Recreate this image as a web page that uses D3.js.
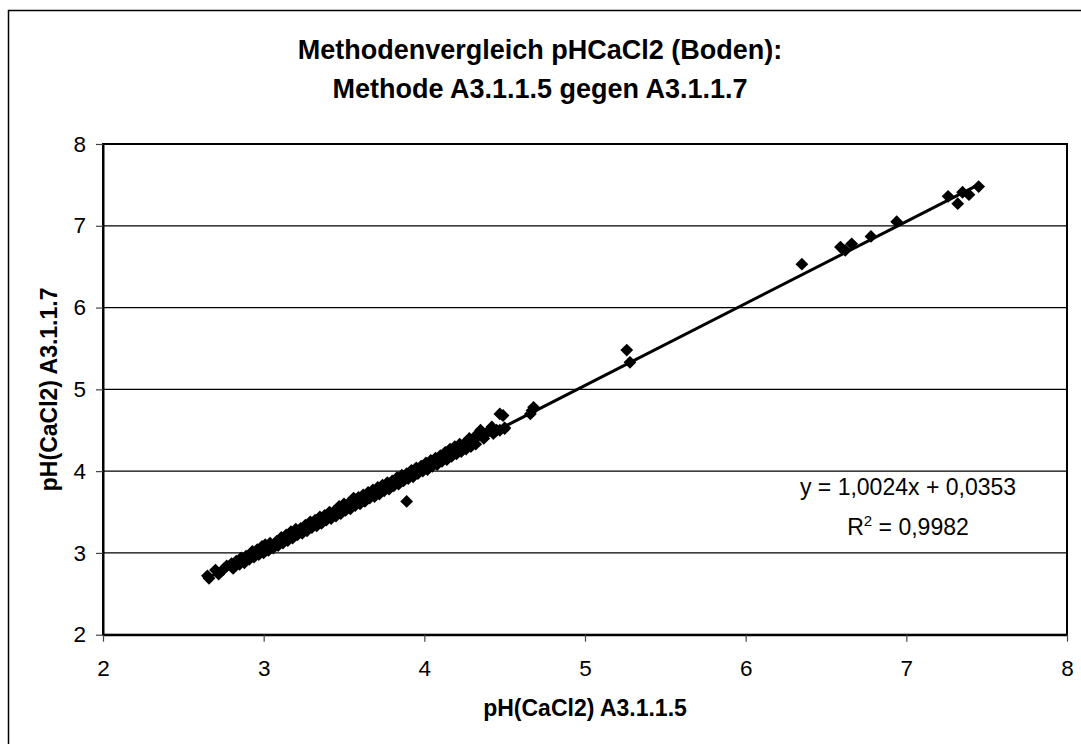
<!DOCTYPE html>
<html>
<head>
<meta charset="utf-8">
<script src="https://cdn.jsdelivr.net/npm/d3@7"></script>
<style>
  html, body { margin: 0; padding: 0; background: #fff; }
  svg { display: block; }
  text { font-family: "Liberation Sans", Arial, sans-serif; fill: #000; }
</style>
</head>
<body>
<svg id="chart" width="1081" height="744"></svg>
<script>
// pH(CaCl2) measured with method A3.1.1.5 (x) and A3.1.1.7 (y)
const phA3115 = [
  2.65, 2.66, 2.70, 2.72, 2.75, 2.77, 2.80, 2.81, 2.83, 2.85, 2.86, 2.88, 2.89, 2.91, 2.93, 2.94,
  2.96, 2.97, 2.99, 3.00, 3.01, 3.03, 3.04, 3.06, 3.08, 3.09, 3.11, 3.12, 3.14, 3.15, 3.17, 3.18,
  3.20, 3.21, 3.23, 3.24, 3.26, 3.27, 3.29, 3.30, 3.32, 3.33, 3.35, 3.36, 3.38, 3.39, 3.41, 3.42,
  3.44, 3.45, 3.47, 3.48, 3.50, 3.51, 3.53, 3.54, 3.56, 3.57, 3.59, 3.60, 3.62, 3.63, 3.65, 3.66,
  3.68, 3.69, 3.71, 3.72, 3.74, 3.75, 3.77, 3.78, 3.80, 3.81, 3.83, 3.84, 3.86, 3.87, 3.89, 3.90,
  3.92, 3.93, 3.95, 3.96, 3.98, 3.99, 4.01, 4.02, 4.04, 4.05, 4.07, 4.08, 4.10, 4.11, 4.13, 4.14,
  4.16, 4.17, 4.19, 4.20, 4.22, 4.23, 4.25, 4.26, 4.28, 4.29, 4.31, 4.32, 4.34, 4.35, 4.37, 4.38,
  4.40, 4.42, 4.43, 4.45, 4.47, 4.50, 3.89,
  4.47, 4.49, 4.50, 4.66, 4.68, 4.67, 5.26, 5.28, 6.35, 6.59, 6.62, 6.66, 6.78, 6.94,
  7.26, 7.32, 7.35, 7.39, 7.45
];
const phA3117 = [
  2.72, 2.69, 2.79, 2.74, 2.80, 2.84, 2.87, 2.81, 2.90, 2.86, 2.94, 2.88, 2.96, 2.92, 3.02, 2.95,
  3.04, 2.98, 3.08, 3.00, 3.10, 3.03, 3.12, 3.06, 3.14, 3.09, 3.19, 3.12, 3.22, 3.15, 3.26, 3.18,
  3.29, 3.22, 3.30, 3.24, 3.34, 3.27, 3.38, 3.31, 3.40, 3.33, 3.44, 3.36, 3.46, 3.40, 3.50, 3.42,
  3.51, 3.45, 3.57, 3.48, 3.60, 3.52, 3.61, 3.54, 3.67, 3.58, 3.68, 3.60, 3.71, 3.63, 3.74, 3.67,
  3.77, 3.69, 3.80, 3.72, 3.83, 3.76, 3.86, 3.78, 3.88, 3.82, 3.92, 3.84, 3.95, 3.88, 3.97, 3.91,
  4.01, 3.93, 4.04, 3.97, 4.06, 4.00, 4.10, 4.02, 4.13, 4.06, 4.16, 4.08, 4.19, 4.12, 4.23, 4.14,
  4.27, 4.18, 4.30, 4.21, 4.33, 4.24, 4.34, 4.27, 4.40, 4.30, 4.41, 4.33, 4.47, 4.50, 4.40, 4.45,
  4.49, 4.54, 4.46, 4.50, 4.50, 4.53, 3.63,
  4.70, 4.68, 4.52, 4.70, 4.78, 4.74, 5.48, 5.33, 6.53, 6.74, 6.70, 6.78, 6.87, 7.05,
  7.36, 7.27, 7.41, 7.38, 7.48
];

// Linear trend line reported in the chart
const trendSlope = 1.0024;
const trendIntercept = 0.0353;
const trendLabel = "y = 1,0024x + 0,0353";
const rSquaredLabel = "0,9982";

const xTicks = [2, 3, 4, 5, 6, 7, 8];
const yTicks = [2, 3, 4, 5, 6, 7, 8];

const titleLines = ["Methodenvergleich pHCaCl2 (Boden):", "Methode A3.1.1.5 gegen A3.1.1.7"];
const xTitle = "pH(CaCl2) A3.1.1.5";
const yTitle = "pH(CaCl2) A3.1.1.7";

const svg = d3.select("#chart");

const plot = { left: 103, right: 1067, top: 144, bottom: 634.7 };
const x = d3.scaleLinear().domain([2, 8]).range([plot.left, plot.right]);
const y = d3.scaleLinear().domain([2, 8]).range([plot.bottom, plot.top]);

// chart frame (runs past the right and bottom edges)
svg.append("rect")
  .attr("x", 8.5).attr("y", 10.5)
  .attr("width", 1200).attr("height", 900)
  .attr("fill", "none").attr("stroke", "#000").attr("stroke-width", 1.5);

// title
const title = svg.append("text")
  .attr("text-anchor", "middle")
  .style("font-size", "27px").style("font-weight", "bold");
titleLines.forEach((t, i) => {
  title.append("tspan").attr("x", 540).attr("y", 58.5 + i * 39.5).text(t);
});

// horizontal gridlines
svg.append("g")
  .selectAll("line")
  .data(yTicks.filter(v => v > 2 && v < 8))
  .join("line")
  .attr("x1", plot.left).attr("x2", plot.right)
  .attr("y1", d => y(d)).attr("y2", d => y(d))
  .attr("stroke", "#000").attr("stroke-width", 1.2);

// plot area border
svg.append("rect")
  .attr("x", plot.left).attr("y", plot.top)
  .attr("width", plot.right - plot.left).attr("height", plot.bottom - plot.top)
  .attr("fill", "none").attr("stroke", "#000").attr("stroke-width", 2);

// axes
const xAxis = svg.append("g")
  .attr("transform", `translate(0,${plot.bottom})`)
  .call(d3.axisBottom(x).tickValues(xTicks).tickFormat(d3.format("d"))
    .tickSize(7).tickSizeOuter(0).tickPadding(18));
const yAxis = svg.append("g")
  .attr("transform", `translate(${plot.left},0)`)
  .call(d3.axisLeft(y).tickValues(yTicks).tickFormat(d3.format("d"))
    .tickSize(7).tickSizeOuter(0).tickPadding(10));
[xAxis, yAxis].forEach(g => {
  g.select(".domain").attr("stroke", "#000").attr("stroke-width", 2);
  g.selectAll(".tick line").attr("stroke", "#444").attr("stroke-width", 1.2);
  g.selectAll(".tick text")
    .style("font-family", "'Liberation Sans', Arial, sans-serif")
    .style("font-size", "22.5px").attr("fill", "#000");
});

// axis titles
svg.append("text")
  .attr("x", (plot.left + plot.right) / 2).attr("y", 716)
  .attr("text-anchor", "middle")
  .style("font-size", "23px").style("font-weight", "bold")
  .text(xTitle);
svg.append("text")
  .attr("transform", `translate(57,${(plot.top + plot.bottom) / 2}) rotate(-90)`)
  .attr("text-anchor", "middle")
  .style("font-size", "23px").style("font-weight", "bold")
  .text(yTitle);

// data markers (filled diamonds)
const r = 6.4;
const points = phA3115.map((v, i) => [v, phA3117[i]]);
svg.append("g")
  .selectAll("path")
  .data(points)
  .join("path")
  .attr("d", d => {
    const cx = x(d[0]), cy = y(d[1]);
    return `M${cx},${cy - r}L${cx + r},${cy}L${cx},${cy + r}L${cx - r},${cy}Z`;
  })
  .attr("fill", "#000");

// trend line over the range of the data
const [xMin, xMax] = d3.extent(phA3115);
svg.append("line")
  .attr("x1", x(xMin)).attr("y1", y(trendSlope * xMin + trendIntercept))
  .attr("x2", x(xMax)).attr("y2", y(trendSlope * xMax + trendIntercept))
  .attr("stroke", "#000").attr("stroke-width", 3);

// trend equation and R²
const eq = svg.append("text")
  .attr("text-anchor", "middle")
  .style("font-size", "23px");
eq.append("tspan").attr("x", 908).attr("y", 495).text(trendLabel);
const r2 = svg.append("text")
  .attr("x", 908).attr("y", 535)
  .attr("text-anchor", "middle")
  .style("font-size", "23px");
r2.append("tspan").text("R");
r2.append("tspan").attr("dy", -9).style("font-size", "15px").text("2");
r2.append("tspan").attr("dy", 9).text(" = " + rSquaredLabel);
</script>
</body>
</html>
